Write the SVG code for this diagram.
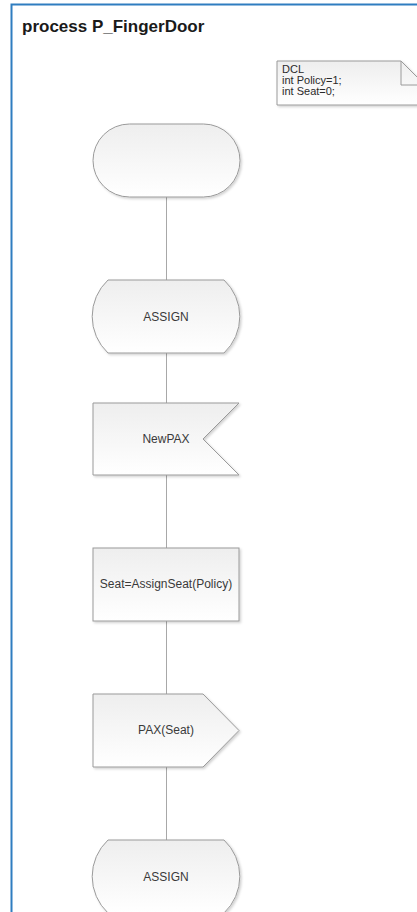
<svg xmlns="http://www.w3.org/2000/svg" width="417" height="912" viewBox="0 0 417 912">
<style>
.shape{fill:url(#g);stroke:#9a9a9a;stroke-width:1;filter:url(#sh)}
.lbl{font-family:"Liberation Sans",Arial,sans-serif;font-size:12px;fill:#3a3a3a;text-anchor:middle;dominant-baseline:central}
.note{font-family:"Liberation Sans",Arial,sans-serif;font-size:11px;fill:#2a2a2a}
.conn{stroke:#a8a8a8;stroke-width:1;fill:none}
</style>
<defs>
<linearGradient id="g" x1="0" y1="0" x2="0" y2="1">
<stop offset="0" stop-color="#eeeeee"/>
<stop offset="1" stop-color="#ffffff"/>
</linearGradient>
<filter id="sh" x="-10%" y="-10%" width="130%" height="130%">
<feDropShadow dx="1.5" dy="1.5" stdDeviation="0.8" flood-color="#000" flood-opacity="0.18"/>
</filter>
</defs>
<rect x="0" y="0" width="417" height="912" fill="#ffffff"/>
<path d="M11.5,912 V4.5 H417" fill="none" stroke="#2f7dc0" stroke-width="2"/>
<text x="22" y="32" font-family="'Liberation Sans',Arial,sans-serif" font-weight="bold" font-size="17" fill="#1a1a1a">process P_FingerDoor</text>

<g id="connectors">
<line class="conn" x1="166.5" y1="197" x2="166.5" y2="280"/>
<line class="conn" x1="166.5" y1="353" x2="166.5" y2="403"/>
<line class="conn" x1="166.5" y1="475" x2="166.5" y2="548"/>
<line class="conn" x1="166.5" y1="621" x2="166.5" y2="694"/>
<line class="conn" x1="166.5" y1="767" x2="166.5" y2="840"/>
</g>

<g id="dcl">
<path class="shape" d="M277,61 H401 L425,85 V105 H277 Z"/>
<path d="M401,61 V85 H425" fill="none" stroke="#9a9a9a" stroke-width="1"/>
<text class="note" x="282" y="73">DCL</text>
<text class="note" x="282" y="84">int Policy=1;</text>
<text class="note" x="282" y="95">int Seat=0;</text>
</g>

<g id="start">
<rect class="shape" x="93" y="124" width="147" height="73" rx="36.5" ry="36.5"/>
</g>

<g id="state1">
<path class="shape" d="M108,280 H224 A50,50 0 0 1 224,353 H108 A50,50 0 0 1 108,280 Z"/>
<text class="lbl" x="166" y="317">ASSIGN</text>
</g>

<g id="input">
<path class="shape" d="M93,403 H239 L203,439 L239,475 H93 Z"/>
<text class="lbl" x="166" y="439">NewPAX</text>
</g>

<g id="task">
<rect class="shape" x="93" y="548" width="146" height="73"/>
<text class="lbl" x="166" y="584">Seat=AssignSeat(Policy)</text>
</g>

<g id="output">
<path class="shape" d="M93,694 H203 L239,730.5 L203,767 H93 Z"/>
<text class="lbl" x="166" y="730">PAX(Seat)</text>
</g>

<g id="state2">
<path class="shape" d="M108,840 H224 A50,50 0 0 1 224,913 H108 A50,50 0 0 1 108,840 Z"/>
<text class="lbl" x="166" y="877">ASSIGN</text>
</g>
</svg>
